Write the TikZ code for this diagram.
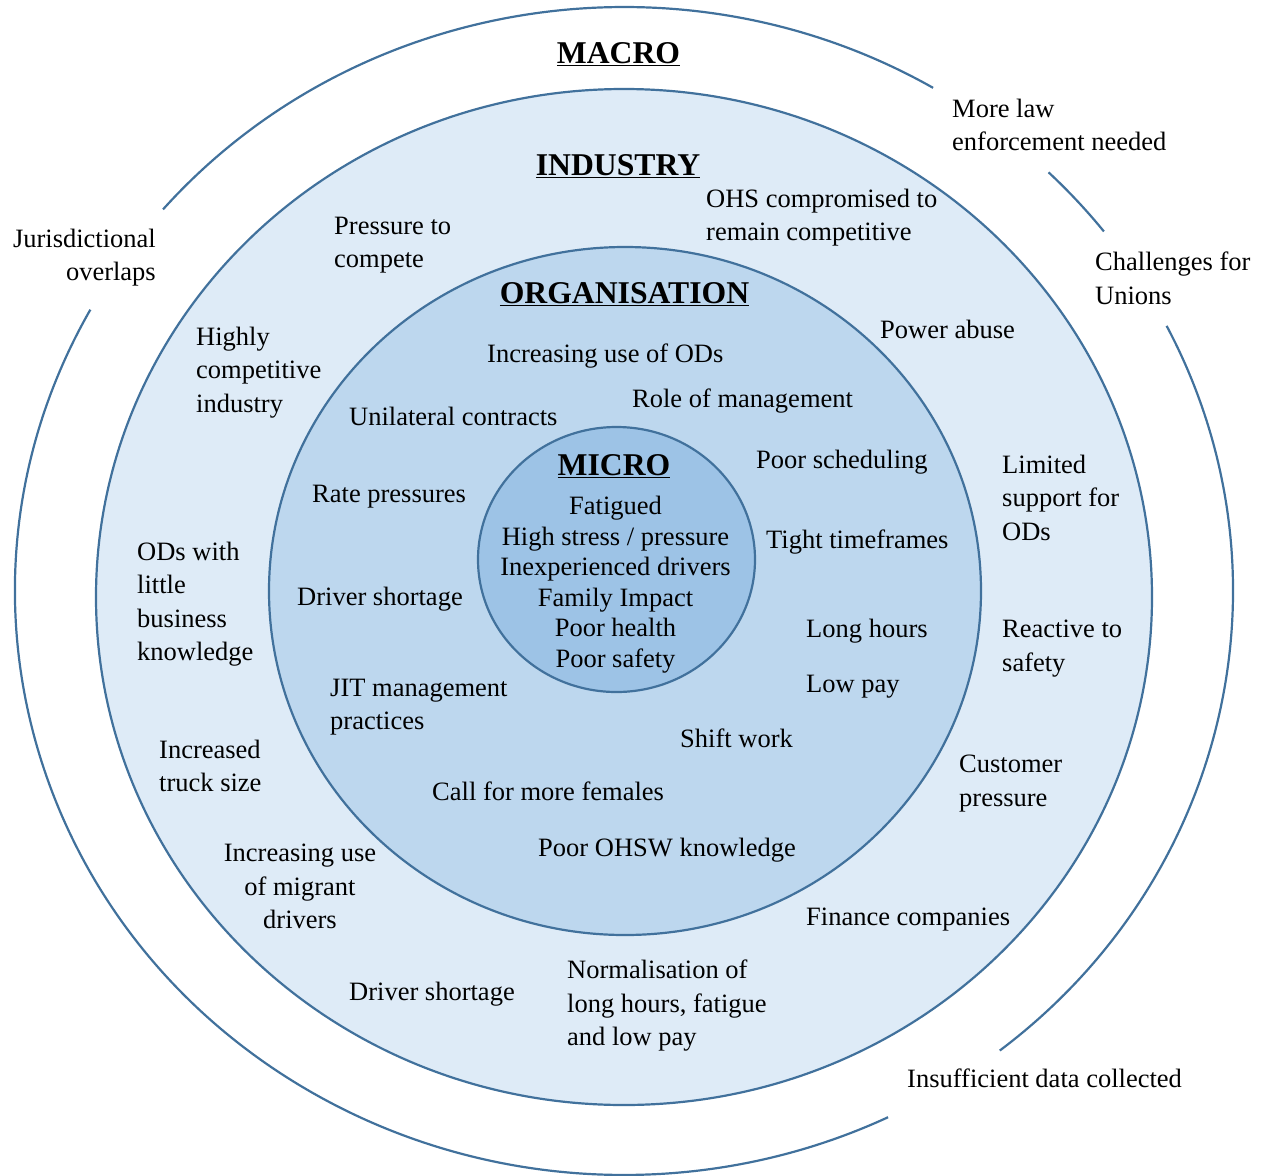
\documentclass[tikz,border=0pt]{standalone}
\usepackage{fontspec}
\setmainfont{Liberation Serif}
\definecolor{ringline}{HTML}{41719C}
\definecolor{industryfill}{HTML}{DEEBF7}
\definecolor{orgfill}{HTML}{BDD7EE}
\definecolor{microfill}{HTML}{9DC3E6}
\begin{document}
\begin{tikzpicture}[x=1bp,y=-1bp,
  ring/.style={draw=ringline,line width=2.2bp},
  bodyfont/.style={font=\fontsize{26.6}{33.4}\selectfont},
  lbl/.style={bodyfont,inner sep=0pt,anchor=base west},
  blockl/.style={bodyfont,inner sep=0pt,anchor=north west,align=left},
  heading/.style={inner sep=0pt,anchor=base,font=\fontsize{31.8}{36}\selectfont\bfseries},
  microtxt/.style={inner sep=0pt,anchor=north,align=center,font=\fontsize{26.6}{30.6}\selectfont}]
\useasboundingbox (0,0) rectangle (1270,1176);

% macro ring: an open ellipse, broken where its labels sit
\draw[ring] ([shift={(-59.5:609 and 584)}]624,591) arc[start angle=-59.5,end angle=-139.2,x radius=609,y radius=584];
\draw[ring] ([shift={(-151.2:609 and 584)}]624,591) arc[start angle=-151.2,end angle=-295.7,x radius=609,y radius=584];
\draw[ring] ([shift={(51.9:609 and 584)}]624,591) arc[start angle=51.9,end angle=-27.0,x radius=609,y radius=584];
\draw[ring] ([shift={(-38.0:609 and 584)}]624,591) arc[start angle=-38.0,end angle=-45.8,x radius=609,y radius=584];

% nested levels
\filldraw[ring,fill=industryfill] (624,597) ellipse[x radius=528,y radius=508];
\filldraw[ring,fill=orgfill] (625,591) ellipse[x radius=356,y radius=344];
\filldraw[ring,fill=microfill] (616.5,559.5) ellipse[x radius=138.5,y radius=132.5];

% headings
\node[heading] (hmacro) at (618.5,63) {\underline{MACRO}};
\node[heading] (hindustry) at (618,175) {\underline{INDUSTRY}};
\node[heading] (horg) at (624.5,303) {\underline{ORGANISATION}};
\node[heading] (hmicro) at (614,475) {\underline{MICRO}};

% macro level
\node[blockl] (mlaw) at (952,99) {More law\\enforcement needed};
\node[bodyfont,inner sep=0pt,anchor=north east,align=right] (mjur) at (156,229) {Jurisdictional\\overlaps};
\node[blockl] (munion) at (1095,252) {Challenges for\\Unions};
\node[lbl] (mdata) at (907,1087) {Insufficient data collected};

% industry level
\node[blockl] (iohs) at (706,189) {OHS compromised to\\remain competitive};
\node[blockl] (ipress) at (334,217) {Pressure to\\compete};
\node[lbl] (ipower) at (880,338) {Power abuse};
\node[blockl] (ihigh) at (196,327) {Highly\\competitive\\industry};
\node[blockl] (ilimit) at (1002,455) {Limited\\support for\\ODs};
\node[blockl] (iods) at (137,542) {ODs with\\little\\business\\knowledge};
\node[blockl] (ireact) at (1002,620) {Reactive to\\safety};
\node[blockl] (itruck) at (159,740) {Increased\\truck size};
\node[blockl] (icust) at (959,755) {Customer\\pressure};
\node[bodyfont,inner sep=0pt,anchor=north,align=center] (imigr) at (300,844) {Increasing use\\of migrant\\drivers};
\node[lbl] (ifin) at (806,925) {Finance companies};
\node[lbl] (ishort) at (349,1000) {Driver shortage};
\node[blockl] (inorm) at (567,960) {Normalisation of\\long hours, fatigue\\and low pay};

% organisation level
\node[lbl] (oods) at (487,362) {Increasing use of ODs};
\node[lbl] (orole) at (632,407) {Role of management};
\node[lbl] (ounil) at (349,425) {Unilateral contracts};
\node[lbl] (osched) at (756,468) {Poor scheduling};
\node[lbl] (orate) at (312,502) {Rate pressures};
\node[lbl] (otight) at (766,548) {Tight timeframes};
\node[lbl] (oshort) at (297,605) {Driver shortage};
\node[lbl] (olong) at (806,637) {Long hours};
\node[lbl] (olow) at (806,692) {Low pay};
\node[blockl] (ojit) at (330,679) {JIT management\\practices};
\node[lbl] (oshift) at (680,747) {Shift work};
\node[lbl] (ofem) at (432,800) {Call for more females};
\node[lbl] (oohsw) at (538,856) {Poor OHSW knowledge};

% micro level
\node[microtxt] (mlist) at (615.5,496) {Fatigued\\High stress / pressure\\Inexperienced drivers\\Family Impact\\Poor health\\Poor safety};
\end{tikzpicture}
\end{document}
